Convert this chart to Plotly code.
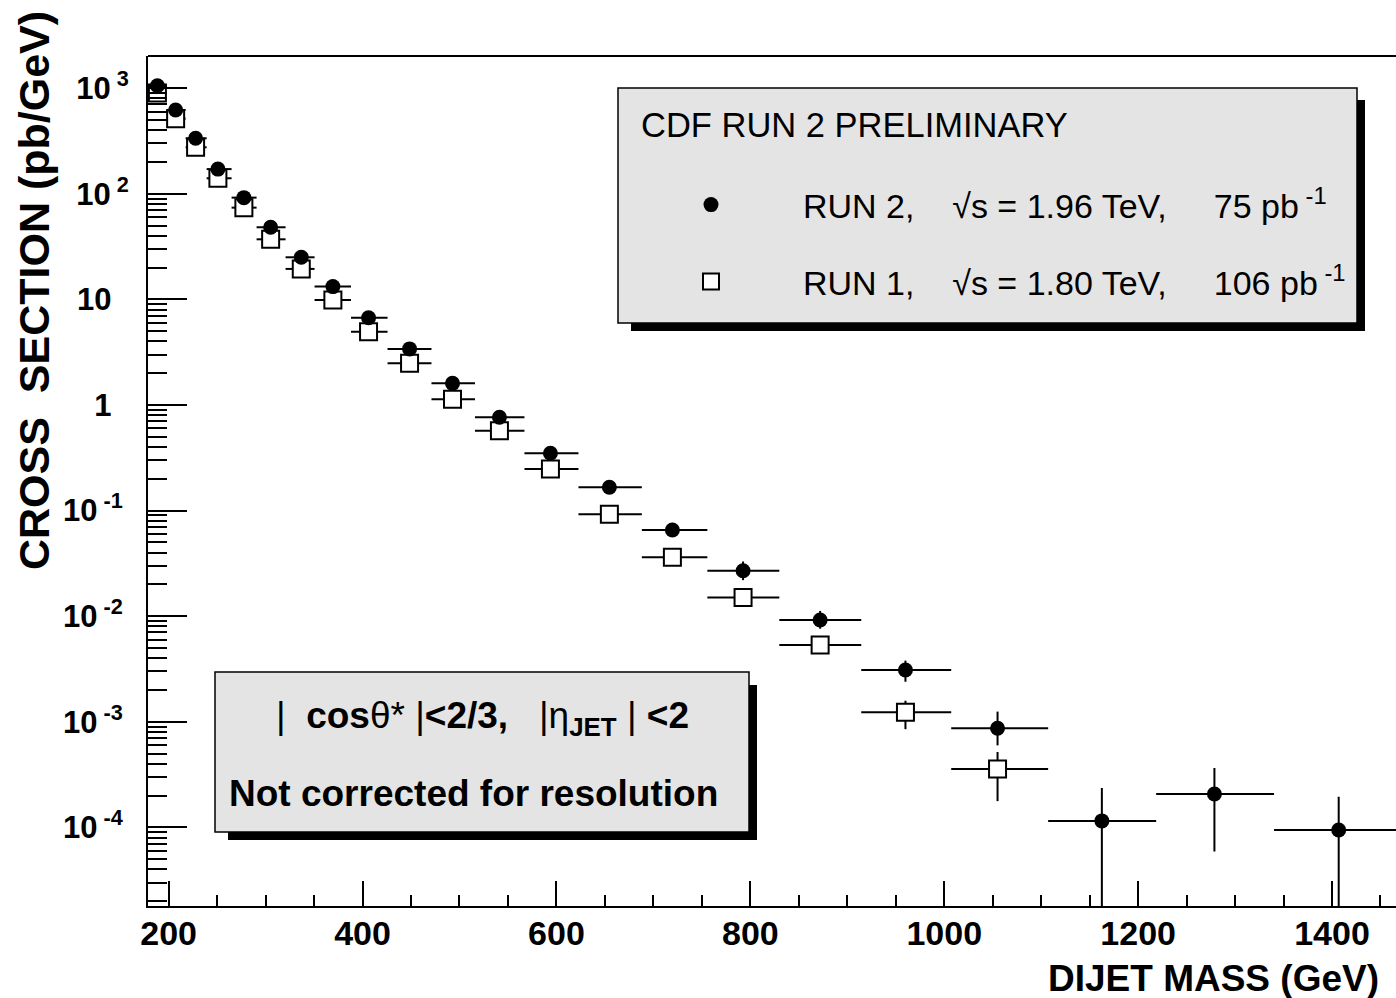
import plotly.graph_objects as go

# ---------------- data ----------------
mass = [188.4, 207.2, 227.8, 250.8, 277.6, 305.2, 336.8, 369.4, 406.2, 448.5, 492.8,
        541.2, 593.8, 654.6, 719.6, 792.5, 872.0, 960.0, 1055.0, 1162.6, 1278.7, 1406.9]
bin_lo = [178.8, 197.9, 217.5, 239.2, 264.9, 290.7, 320.6, 350.5, 388.1, 425.8, 471.1,
          516.0, 567.0, 622.7, 688.1, 755.7, 829.9, 914.4, 1007.2, 1107.2, 1218.6, 1340.2]
bin_hi = [197.9, 217.5, 239.2, 264.9, 290.7, 320.6, 350.5, 388.1, 425.8, 471.1, 516.0,
          567.0, 622.7, 688.1, 755.7, 829.9, 914.4, 1007.2, 1107.2, 1218.6, 1340.2, 1473.2]

run2_xsec = [1054, 621, 335, 171, 91.8, 48.1, 25.0, 13.2, 6.70, 3.39, 1.60,
             0.764, 0.348, 0.166, 0.0654, 0.0269, 0.0092, 0.00309, 8.67e-4,
             1.15e-4, 2.07e-4, 9.44e-5]
run2_err_up = [60, 35, 19, 10, 5.5, 3.0, 1.6, 0.9, 0.5, 0.27, 0.14,
               0.075, 0.04, 0.022, 0.011, 0.006, 0.0020, 0.0007, 3.8e-4,
               1.21e-4, 1.58e-4, 1.0e-4]
run2_err_dn = [55, 32, 17, 9, 5.0, 2.7, 1.4, 0.8, 0.45, 0.24, 0.12,
               0.065, 0.035, 0.019, 0.009, 0.005, 0.0016, 0.0007, 2.7e-4,
               1.15e-4, 1.48e-4, 9.44e-5]

run1_xsec = [900, 514, 275, 140, 73.8, 37.0, 19.4, 9.86, 4.94, 2.48, 1.13,
             0.570, 0.247, 0.0921, 0.0360, 0.0150, 0.00533, 0.00123, 3.57e-4]
run1_err_up = [40, 25, 14, 7, 4.0, 2.0, 1.1, 0.6, 0.3, 0.16, 0.08,
               0.04, 0.02, 0.009, 0.004, 0.002, 0.0008, 0.00035, 1.6e-4]
run1_err_dn = [38, 23, 13, 6.5, 3.7, 1.9, 1.0, 0.55, 0.28, 0.15, 0.07,
               0.037, 0.018, 0.008, 0.0035, 0.0018, 0.0007, 0.00038, 1.8e-4]

NB = "\u00a0"
y_tickvals = [1e3, 1e2, 1e1, 1, 1e-1, 1e-2, 1e-3, 1e-4]
y_ticktext = [f"10<sup>{NB}3</sup>", f"10<sup>{NB}2</sup>", f"10{NB*2}", f"1{NB*2}",
              f"10<sup>{NB}-1{NB}</sup>", f"10<sup>{NB}-2{NB}</sup>",
              f"10<sup>{NB}-3{NB}</sup>", f"10<sup>{NB}-4{NB}</sup>"]
x_tickvals = [200, 400, 600, 800, 1000, 1200, 1400]
x_ticktext = ["200", "400", "600", "800", "1000", "1200", "1400"]

# ---------------- geometry ----------------
W, H = 1396, 998
L, R, T, B = 148, 0, 56, 92
PW = W - L - R
PH = H - T - B


def px(x):
    return (x - L) / PW


def py(y):
    return (H - B - y) / PH


n1 = len(run1_xsec)
ex_p = [h - m for h, m in zip(bin_hi, mass)]
ex_m = [m - l for m, l in zip(mass, bin_lo)]

FONT = "Liberation Sans, Arial, Helvetica, sans-serif"

fig = go.Figure()

fig.add_trace(go.Scatter(
    x=mass[:n1], y=run1_xsec, mode="markers",
    name=f"RUN 1,{NB*4}√s = 1.80 TeV,{NB*5}106 pb<sup>{NB}-1</sup>",
    marker=dict(symbol="square", size=17, color="white",
                line=dict(color="black", width=2)),
    error_x=dict(type="data", symmetric=False, array=ex_p[:n1], arrayminus=ex_m[:n1],
                 color="black", thickness=2, width=0),
    error_y=dict(type="data", symmetric=False, array=run1_err_up, arrayminus=run1_err_dn,
                 color="black", thickness=2, width=0),
    legend="legend2",
))

fig.add_trace(go.Scatter(
    x=mass, y=run2_xsec, mode="markers",
    name=f"RUN 2,{NB*4}√s = 1.96 TeV,{NB*5}75 pb<sup>{NB}-1</sup>",
    marker=dict(symbol="circle", size=15, color="black"),
    error_x=dict(type="data", symmetric=False, array=ex_p, arrayminus=ex_m,
                 color="black", thickness=2, width=0),
    error_y=dict(type="data", symmetric=False, array=run2_err_up, arrayminus=run2_err_dn,
                 color="black", thickness=2, width=0),
    legend="legend",
))

minor_y = [k * 10 ** e for e in range(-5, 4) for k in range(2, 10)]

fig.update_xaxes(
    range=[178.7, 1466], showgrid=False, zeroline=False,
    showline=True, linecolor="black", linewidth=2,
    ticks="inside", ticklen=25, tickwidth=2, tickcolor="black",
    tickmode="array", tickvals=x_tickvals, ticktext=x_ticktext,
    tickfont=dict(family=FONT, size=34, color="black", weight="bold"),
    ticklabelstandoff=-4,
    minor=dict(ticks="inside", ticklen=11, tickwidth=2, tickcolor="black",
               dtick=50, tick0=0, showgrid=False),
)
fig.update_yaxes(
    type="log", range=[-4.745, 3.304], showgrid=False, zeroline=False,
    showline=True, linecolor="black", linewidth=2,
    ticks="inside", ticklen=39, tickwidth=2, tickcolor="black",
    tickmode="array", tickvals=y_tickvals, ticktext=y_ticktext,
    tickfont=dict(family=FONT, size=31, color="black", weight="bold"),
    ticklabelstandoff=11,
    minor=dict(ticks="inside", ticklen=19, tickwidth=2, tickcolor="black",
               tickmode="array", tickvals=minor_y, showgrid=False),
)

shapes = []
# frame top line
shapes.append(dict(type="line", xref="paper", yref="paper", x0=0, x1=1, y0=1, y1=1,
                   line=dict(color="black", width=2), layer="above"))
# box 1 (legend box) shadow + box
shapes.append(dict(type="rect", xref="paper", yref="paper",
                   x0=px(631), x1=px(1365), y0=py(331), y1=py(100),
                   fillcolor="black", line=dict(width=0), layer="above"))
shapes.append(dict(type="rect", xref="paper", yref="paper",
                   x0=px(618), x1=px(1357), y0=py(323), y1=py(88),
                   fillcolor="#e4e4e4", line=dict(color="black", width=1.5), layer="above"))
# box 2 shadow + box
shapes.append(dict(type="rect", xref="paper", yref="paper",
                   x0=px(228), x1=px(757), y0=py(840), y1=py(685),
                   fillcolor="black", line=dict(width=0), layer="above"))
shapes.append(dict(type="rect", xref="paper", yref="paper",
                   x0=px(215), x1=px(749), y0=py(832), y1=py(672),
                   fillcolor="#e4e4e4", line=dict(color="black", width=1.5), layer="above"))

cut_text = (f"|{NB*2}<b>cos</b>θ*{NB}|<b>&lt;2/3,</b>{NB*3}|η<sub><b>JET</b></sub>"
            f"{NB}|{NB}<b>&lt;2</b>")

annotations = [
    dict(text="CDF RUN 2 PRELIMINARY", x=px(639), y=py(125), xref="paper", yref="paper",
         xanchor="left", yanchor="middle", showarrow=False,
         font=dict(family=FONT, size=34.5, color="black")),
    dict(text=cut_text,
         x=px(482), y=py(718), xref="paper", yref="paper",
         xanchor="center", yanchor="middle", showarrow=False,
         font=dict(family=FONT, size=37, color="black")),
    dict(text="<b>Not corrected for resolution</b>", x=px(473), y=py(793),
         xref="paper", yref="paper", xanchor="center", yanchor="middle", showarrow=False,
         font=dict(family=FONT, size=37, color="black")),
    dict(text=f"<b>CROSS{NB*2}SECTION (pb/GeV)</b>", x=px(34), y=py(291),
         xref="paper", yref="paper", xanchor="center", yanchor="middle", showarrow=False,
         textangle=-90, font=dict(family=FONT, size=43, color="black")),
    dict(text="<b>DIJET MASS (GeV)</b>", x=px(1381), y=py(978),
         xref="paper", yref="paper", xanchor="right", yanchor="middle", showarrow=False,
         font=dict(family=FONT, size=37, color="black")),
]

legend_common = dict(bgcolor="rgba(0,0,0,0)", borderwidth=0, itemwidth=174,
                     font=dict(family=FONT, size=34, color="black"),
                     xanchor="left", yanchor="middle", itemclick=False,
                     itemdoubleclick=False)

fig.update_layout(
    width=W, height=H,
    margin=dict(l=L, r=R, t=T, b=B, pad=0),
    paper_bgcolor="white", plot_bgcolor="white",
    shapes=shapes, annotations=annotations,
    showlegend=True,
    legend=dict(x=px(619), y=py(205), **legend_common),
    legend2=dict(x=px(619), y=py(282), **legend_common),
    hovermode=False,
)

fig.write_html("out.html", config=dict(displayModeBar=False))
